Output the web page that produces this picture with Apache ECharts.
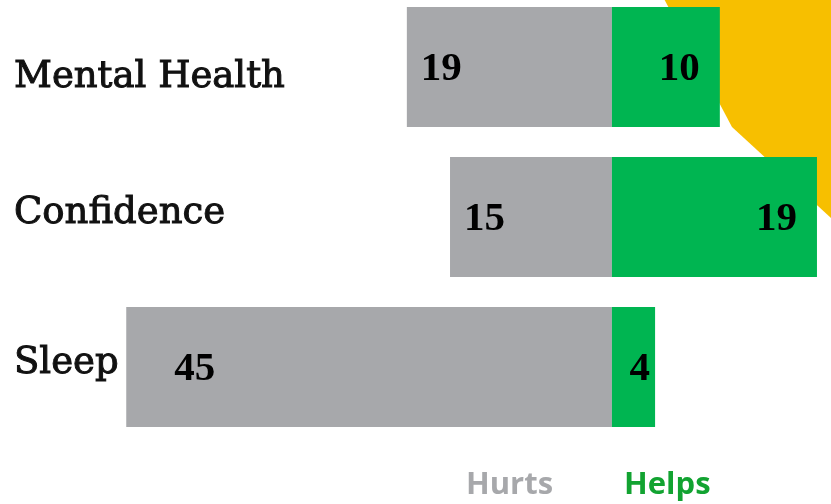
<!DOCTYPE html>
<html>
<head>
<meta charset="utf-8">
<script src="https://cdn.jsdelivr.net/npm/echarts@6/dist/echarts.min.js"></script>
<style>
  html, body { margin: 0; padding: 0; background: #fff; }
  #chart { width: 831px; height: 504px; }
</style>
</head>
<body>
<div id="chart"></div>
<script>
// categories, top to bottom
const categories = ['Mental Health', 'Confidence', 'Sleep']
const hurts = [19, 15, 45]
const helps = [10, 19, 4]

const GREY = '#A7A8AB'
const GREEN = '#00B551'
const YELLOW = '#F7BF00'
const NUM_FONT = '"Liberation Serif", "DejaVu Serif", serif'
const CAT_FONT = '"DejaVu Serif", "Liberation Serif", serif'

const chart = echarts.init(document.getElementById('chart'))

const catText = {
  color: '#111',
  fontFamily: CAT_FONT,
  fontSize: 37,
  textBorderColor: '#111',
  textBorderWidth: 1
}

const numLabel = {
  show: true,
  offset: [0, 2],
  color: '#000',
  fontFamily: NUM_FONT,
  fontWeight: 'bold',
  fontSize: 41
}

const option = {
  animation: false,
  backgroundColor: '#fff',
  // yellow decoration in the top right corner
  graphic: [
    {
      type: 'polygon',
      z: -10,
      shape: {
        points: [[662, -5], [732, 127], [831, 218], [831, -5]]
      },
      style: { fill: YELLOW }
    }
  ],
  legend: {
    left: 456,
    top: 465,
    icon: 'rect',
    itemWidth: 0,
    itemHeight: 0,
    itemGap: 66,
    selectedMode: false,
    textStyle: {
      fontFamily: '"Open Sans", sans-serif',
      fontWeight: 'bold',
      fontSize: 31
    },
    data: [
      { name: 'Hurts', textStyle: { color: GREY } },
      { name: 'Helps', textStyle: { color: '#12A331' } }
    ]
  },
  grid: {
    left: 14,
    right: 0,
    top: 67,
    height: 300,
    outerBoundsMode: 'none'
  },
  xAxis: {
    type: 'value',
    min: -55.4,
    max: 20.3,
    show: false
  },
  yAxis: {
    type: 'category',
    inverse: true,
    boundaryGap: false,
    data: categories,
    axisLine: { show: false },
    axisTick: { show: false },
    splitLine: { show: false },
    axisLabel: {
      align: 'left',
      margin: 0,
      ...catText,
      // the names do not sit exactly on the bar centres
      formatter: (v, i) => (i === 0 ? '{lo|' + v + '}' : '{hi|' + v + '}'),
      rich: {
        lo: { ...catText, padding: [21, 0, 0, 0] },
        hi: { ...catText, padding: [0, 0, 8, 0] }
      }
    }
  },
  series: [
    {
      name: 'Hurts',
      type: 'bar',
      stack: 'total',
      barWidth: 120,
      itemStyle: { color: GREY },
      label: {
        ...numLabel,
        position: 'insideLeft',
        distance: 14,
        formatter: (p) => Math.abs(p.value)
      },
      data: hurts.map((v, i) =>
        i === 2 ? { value: -v, label: { distance: 48 } } : -v
      )
    },
    {
      name: 'Helps',
      type: 'bar',
      stack: 'total',
      barWidth: 120,
      itemStyle: { color: GREEN },
      label: {
        ...numLabel,
        position: 'insideRight',
        distance: 20
      },
      data: helps.map((v, i) =>
        i === 2 ? { value: v, label: { distance: 5 } } : v
      )
    }
  ]
}

chart.setOption(option)
</script>
</body>
</html>
